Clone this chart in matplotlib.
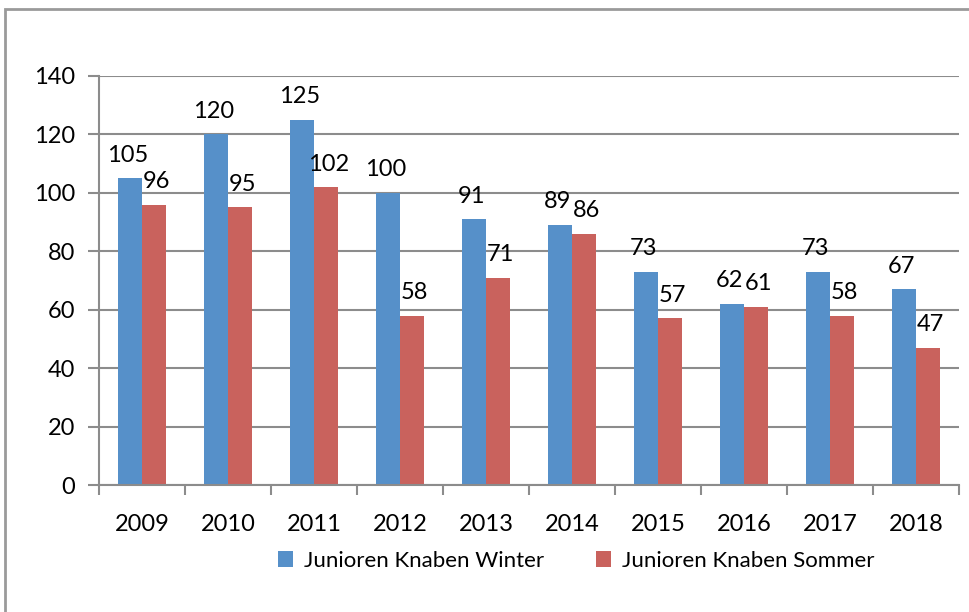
import numpy as np
import matplotlib.pyplot as plt
from matplotlib.patches import Rectangle

years = ['2009', '2010', '2011', '2012', '2013', '2014', '2015', '2016', '2017', '2018']
winter = [105, 120, 125, 100, 91, 89, 73, 62, 73, 67]
sommer = [96, 95, 102, 58, 71, 86, 57, 61, 58, 47]
labels = ['Junioren Knaben Winter', 'Junioren Knaben Sommer']

plt.rcParams['font.family'] = ['Lato', 'DejaVu Sans']

W, H = 970, 612
fig = plt.figure(figsize=(W / 100, H / 100), dpi=100)
# outer frame of the chart
fig.patches.append(Rectangle((5 / W, -0.1), 1.2, 1 - 9 / H + 0.1, transform=fig.transFigure,
                             fill=False, edgecolor='#9a9a9a', linewidth=2))

ax = fig.add_axes([99 / W, 1 - 485 / H, (959 - 99) / W, (485 - 76) / H])

x = np.arange(len(years))
bw = 0.28
blue, red = '#5690c9', '#c9625d'
b1 = ax.bar(x - bw / 2, winter, bw, color=blue, label=labels[0])
b2 = ax.bar(x + bw / 2, sommer, bw, color=red, label=labels[1])

# value labels above the bars, nudged apart a little so neighbours don't collide
for bars, vals, dx in ((b1, winter, -1.5), (b2, sommer, 1.5)):
    for r, v in zip(bars, vals):
        ax.annotate(str(v), (r.get_x() + r.get_width() / 2, v), xytext=(dx, 9),
                    textcoords='offset points', ha='center', va='bottom', fontsize=17)

ax.set_xlim(-0.5, len(years) - 0.5)
ax.set_ylim(0, 140)
ax.set_yticks(range(0, 141, 20))
ax.set_xticks(x)
ax.set_xticklabels(years, fontsize=17)
ax.set_xticks(np.arange(-0.5, len(years)), minor=True)
ax.tick_params(axis='x', which='major', length=0, pad=21)
ax.tick_params(axis='x', which='minor', length=7, color='#8c8c8c', width=1.5)
ax.tick_params(axis='y', length=8, color='#8c8c8c', width=1.5, labelsize=17, pad=9)
ax.yaxis.grid(True, color='#8c8c8c', linewidth=1.5)
ax.set_axisbelow(True)
for s in ['top', 'right']:
    ax.spines[s].set_visible(False)
for s in ['left', 'bottom']:
    ax.spines[s].set_color('#8c8c8c')
    ax.spines[s].set_linewidth(1.5)

ax.legend(loc='center', bbox_to_anchor=(0.555, -0.185), ncol=2, frameon=False,
          fontsize=16, handlelength=0.7, handleheight=0.7, handletextpad=0.5,
          columnspacing=2.3)

fig.savefig('out.png', dpi=100)
